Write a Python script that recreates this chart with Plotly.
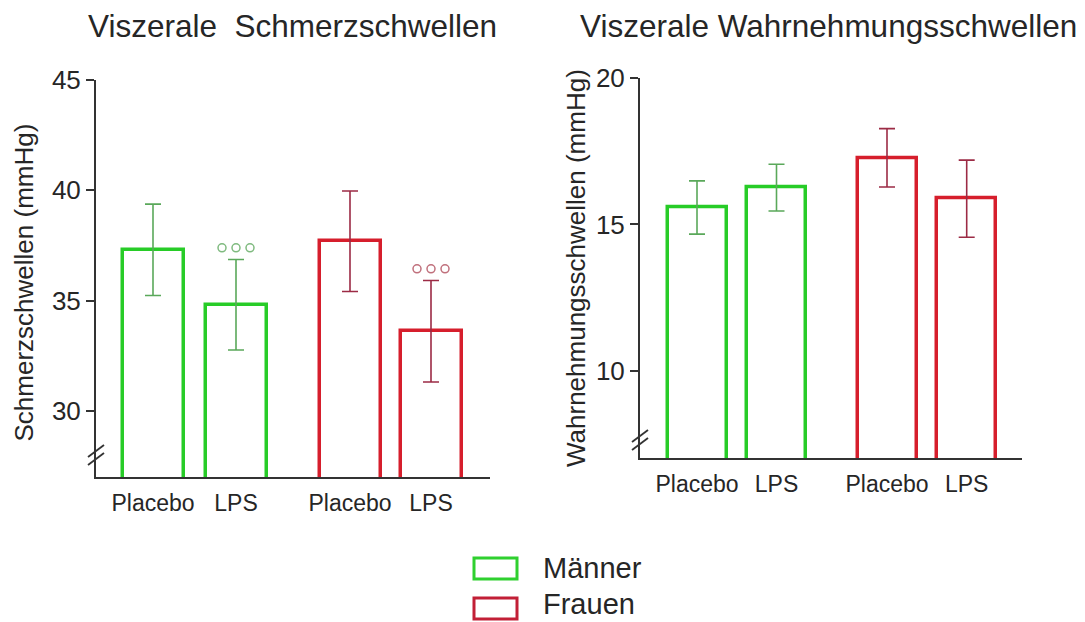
import plotly.graph_objects as go

# ---------------- data ----------------
conditions = ["Placebo", "LPS", "Placebo", "LPS"]
sexes = ["Männer", "Männer", "Frauen", "Frauen"]
legend_names = ["Männer", "Frauen"]

pain_mean = [37.30, 34.81, 37.69, 33.61]
pain_err = [2.07, 2.05, 2.28, 2.30]
pain_sig = ["", "ooo", "", "ooo"]

perc_mean = [15.58, 16.26, 17.28, 15.88]
perc_err = [0.91, 0.80, 1.00, 1.32]

titles = ["Viszerale  Schmerzschwellen", "Viszerale Wahrnehmungsschwellen"]
ytitles = ["Schmerzschwellen (mmHg)", "Wahrnehmungsschwellen (mmHg)"]
pain_ticks = [30, 35, 40, 45]
perc_ticks = [10, 15, 20]

# ---------------- layout helpers ----------------
W, H = 1085, 622
FONT = "Liberation Sans, Arial, Helvetica, sans-serif"
TXT = "#262626"
AX = "#333333"
col_line = {"Männer": "#27cc27", "Frauen": "#d61e2c"}
col_err = {"Männer": "#5aa85a", "Frauen": "#9c2b45"}
col_sig = {"Männer": "#7fba7f", "Frauen": "#c0707c"}
col_leg = {"Männer": "#2fd02f", "Frauen": "#c21f36"}

# bar positions in each panel (pixel-like units along the x axis)
pos_left = [57, 140, 254, 335]
pos_right = [57, 136.5, 247, 326.7]
bw_left, bw_right = 61, 59


def px(x, y):
    return x / W, 1 - y / H


fig = go.Figure()

# left panel bars
for i in range(4):
    s = sexes[i]
    fig.add_trace(go.Bar(
        x=[pos_left[i]], y=[pain_mean[i]], width=[bw_left],
        marker=dict(color="rgba(255,255,255,0)", line=dict(color=col_line[s], width=3.5)),
        error_y=dict(type="data", array=[pain_err[i]], color=col_err[s], thickness=1.6, width=8),
        xaxis="x", yaxis="y", showlegend=False, hoverinfo="skip"))

# significance markers (open circles above error bars)
sig_off = 0.53
for i in range(4):
    if pain_sig[i]:
        n = len(pain_sig[i])
        xs = [pos_left[i] + 14 * (k - (n - 1) / 2) for k in range(n)]
        ys = [pain_mean[i] + pain_err[i] + sig_off] * n
        fig.add_trace(go.Scatter(
            x=xs, y=ys, mode="markers",
            marker=dict(symbol="circle-open", size=8, color=col_sig[sexes[i]], line=dict(width=1.5)),
            xaxis="x", yaxis="y", showlegend=False, hoverinfo="skip", cliponaxis=False))

# right panel bars
for i in range(4):
    s = sexes[i]
    fig.add_trace(go.Bar(
        x=[pos_right[i]], y=[perc_mean[i]], width=[bw_right],
        marker=dict(color="rgba(255,255,255,0)", line=dict(color=col_line[s], width=3.5)),
        error_y=dict(type="data", array=[perc_err[i]], color=col_err[s], thickness=1.6, width=8),
        xaxis="x2", yaxis="y2", showlegend=False, hoverinfo="skip"))

xdom_l = [96 / W, 490 / W]
xdom_r = [640 / W, 1022 / W]
ydom_l = [1 - 477 / H, 1 - 80 / H]
ydom_r = [1 - 458.3 / H, 1 - 78.3 / H]

common_x = dict(showline=True, linecolor=AX, linewidth=2, ticks="", showgrid=False,
                zeroline=False, tickfont=dict(family=FONT, size=23, color=TXT),
                ticklabelstandoff=4, fixedrange=True, automargin=False)
common_y = dict(showline=True, linecolor=AX, linewidth=2, ticks="outside", ticklen=8,
                tickwidth=2, tickcolor=AX, showgrid=False, zeroline=False,
                tickfont=dict(family=FONT, size=26, color=TXT), fixedrange=True,
                automargin=False)

fig.update_layout(
    template="none",
    width=W, height=H, margin=dict(l=0, r=0, t=0, b=0, pad=0, autoexpand=False),
    paper_bgcolor="white", plot_bgcolor="white", bargap=0, showlegend=False,
    xaxis=dict(domain=xdom_l, range=[0, 394], tickvals=pos_left, ticktext=conditions,
               anchor="y", **common_x),
    yaxis=dict(domain=ydom_l, range=[27, 45], tickvals=pain_ticks, anchor="x", **common_y),
    xaxis2=dict(domain=xdom_r, range=[0, 382], tickvals=pos_right, ticktext=conditions,
                anchor="y2", **common_x),
    yaxis2=dict(domain=ydom_r, range=[7, 20], tickvals=perc_ticks, anchor="x2", **common_y),
)

annotations = []
# panel titles
for t, cx in zip(titles, [292.5, 828]):
    x, y = px(cx, 26)
    annotations.append(dict(text=t, x=x, y=y, xref="paper", yref="paper", showarrow=False,
                            xanchor="center", yanchor="middle",
                            font=dict(family=FONT, size=31.5, color=TXT)))
# y axis titles
for t, cx, cy in zip(ytitles, [23, 576], [282.5, 268]):
    x, y = px(cx, cy)
    annotations.append(dict(text=t, x=x, y=y, xref="paper", yref="paper", showarrow=False,
                            textangle=-90, xanchor="center", yanchor="middle",
                            font=dict(family=FONT, size=26, color=TXT)))

shapes = []
# axis break marks
for ax_x, yc in [(96, 455), (640, 440)]:
    for dy in (-4, 4):
        x0, y0 = px(ax_x - 8, yc + dy + 6)
        x1, y1 = px(ax_x + 8, yc + dy - 6)
        shapes.append(dict(type="line", xref="paper", yref="paper", x0=x0, y0=y0, x1=x1, y1=y1,
                           line=dict(color=AX, width=1.8)))

# legend
for name, ytop, tyc in zip(legend_names, [557, 597], [568, 604]):
    x0, y0 = px(474, ytop + 22)
    x1, y1 = px(517, ytop + 1)
    shapes.append(dict(type="rect", xref="paper", yref="paper", x0=x0, y0=y0, x1=x1, y1=y1,
                       line=dict(color=col_leg[name], width=3), fillcolor="white"))
    tx, ty = px(541, tyc)
    annotations.append(dict(text=name, x=tx, y=ty, xref="paper", yref="paper", showarrow=False,
                            xanchor="left", yanchor="middle",
                            font=dict(family=FONT, size=29, color=TXT)))

fig.update_layout(annotations=annotations, shapes=shapes)
fig.write_html("out.html", config={"displayModeBar": False})
